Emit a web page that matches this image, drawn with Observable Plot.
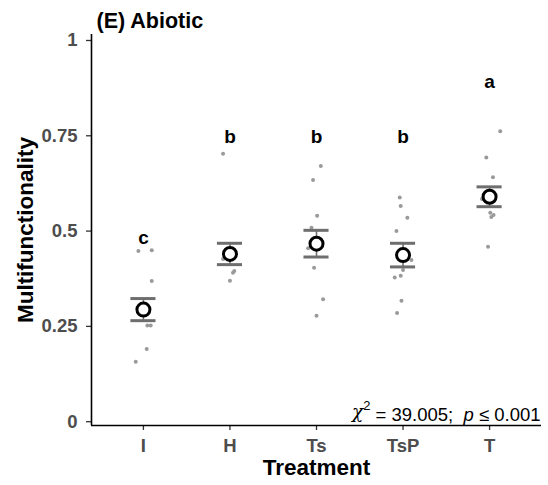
<!DOCTYPE html>
<html>
<head>
<meta charset="utf-8">
<script src="https://cdn.jsdelivr.net/npm/d3@7"></script>
<script src="https://cdn.jsdelivr.net/npm/@observablehq/plot@0.6"></script>
<style>
  body { margin: 0; background: white; }
  #chart svg { display: block; }
</style>
</head>
<body>
<div id="chart"></div>
<script>
// ---- data ----
const treatments = ["I", "H", "Ts", "TsP", "T"];
const means = [0.294, 0.440, 0.467, 0.437, 0.590];
const ses = [0.029, 0.028, 0.035, 0.031, 0.026];
const letters = ["c", "b", "b", "b", "a"];
const letterPos = [0.483, 0.747, 0.747, 0.747, 0.891];
const yTicks = [0, 0.25, 0.5, 0.75, 1];

const obsI   = [0.448, 0.450, 0.369, 0.252, 0.252, 0.191, 0.157];
const jitI   = [-0.058, 0.096, 0.096, 0.046, 0.084, 0.038, -0.089];
const obsH   = [0.703, 0.427, 0.395, 0.391, 0.370];
const jitH   = [-0.08, -0.08, 0.05, 0.035, 0.0];
const obsTs  = [0.671, 0.634, 0.540, 0.509, 0.455, 0.404, 0.321, 0.278];
const jitTs  = [0.05, -0.04, 0.007, -0.058, -0.097, -0.028, 0.076, 0.0];
const obsTsP = [0.588, 0.566, 0.535, 0.500, 0.424, 0.398, 0.383, 0.378, 0.317, 0.285];
const jitTsP = [-0.038, -0.027, 0.05, -0.076, 0.097, 0.0, -0.027, -0.096, -0.018, -0.069];
const obsT   = [0.762, 0.693, 0.641, 0.584, 0.548, 0.542, 0.537, 0.459];
const jitT   = [0.123, -0.038, 0.039, -0.088, 0.008, 0.046, 0.02, -0.018];

const chiText = "χ2 = 39.005;  p ≤ 0.001";
const titleText = "(E) Abiotic";

// ---- build tables ----
const obsGroups = [[obsI, jitI], [obsH, jitH], [obsTs, jitTs], [obsTsP, jitTsP], [obsT, jitT]];
const points = obsGroups.flatMap(([vals, jit], i) =>
  vals.map((v, k) => ({ pos: i + 1 + jit[k], value: v })));
const summary = treatments.map((t, i) => ({
  idx: i + 1, mean: means[i], lo: means[i] - ses[i], hi: means[i] + ses[i],
  letter: letters[i], lpos: letterPos[i]
}));
const capHalf = 0.145;
const font = "Liberation Sans, Arial, Helvetica, sans-serif";

const chart = Plot.plot({
  width: 548,
  height: 485,
  marginLeft: 91,
  marginRight: 7,
  marginTop: 34,
  marginBottom: 60,
  style: { fontFamily: font, background: "white" },
  x: { type: "linear", domain: [0.4, 5.6] },
  y: { domain: [-0.01, 1.0157] },
  marks: [
    Plot.axisY({
      ticks: yTicks, tickFormat: d => String(d), tickSize: 5, tickPadding: 9,
      fontSize: 18.5, fontWeight: "bold", fill: "#4d4d4d", stroke: "#333", strokeWidth: 1.3, label: null
    }),
    Plot.axisX({
      ticks: treatments.map((t, i) => i + 1), tickFormat: d => treatments[d - 1], tickSize: 5, tickPadding: 8,
      fontSize: 18.5, fontWeight: "bold", fill: "#4d4d4d", stroke: "#333", strokeWidth: 1.3, label: null
    }),
    Plot.ruleX([0.4], { stroke: "black", strokeWidth: 1.6 }),
    Plot.ruleY([-0.01], { stroke: "black", strokeWidth: 1.6 }),
    Plot.dot(points, { x: "pos", y: "value", r: 2, fill: "#9a9a9a", stroke: "none" }),
    Plot.ruleX(summary, { x: "idx", y1: "lo", y2: "hi", stroke: "#6e6e6e", strokeWidth: 1.6 }),
    Plot.ruleY(summary, { y: "lo", x1: d => d.idx - capHalf, x2: d => d.idx + capHalf, stroke: "#6e6e6e", strokeWidth: 3 }),
    Plot.ruleY(summary, { y: "hi", x1: d => d.idx - capHalf, x2: d => d.idx + capHalf, stroke: "#6e6e6e", strokeWidth: 3 }),
    Plot.dot(summary, { x: "idx", y: "mean", r: 6.5, fill: "white", stroke: "black", strokeWidth: 3 }),
    Plot.text(summary, { x: "idx", y: "lpos", text: "letter", fontSize: 19, fontWeight: "bold", fill: "black" }),
    Plot.text([titleText], { frameAnchor: "top-left", textAnchor: "start", lineAnchor: "middle", dx: 5, dy: -13, fontSize: 21.5, fontWeight: "bold", fill: "black" }),
    Plot.text(["Multifunctionality"], { frameAnchor: "left", textAnchor: "middle", rotate: -90, dx: -66, fontSize: 22.5, fontWeight: "bold", fill: "black" }),
    Plot.text(["Treatment"], { frameAnchor: "bottom", textAnchor: "middle", lineAnchor: "middle", dy: 42, fontSize: 22.5, fontWeight: "bold", fill: "black" }),
    Plot.text([chiText], { frameAnchor: "bottom-right", textAnchor: "end", lineAnchor: "bottom", dx: -1, dy: -8, fontSize: 18.5, fill: "black" })
  ]
});

document.getElementById("chart").appendChild(chart);

// rich formatting for the statistics annotation
const svg = d3.select(chart);
svg.selectAll("text").filter(function () { return this.textContent === chiText; })
  .each(function () {
    const t = d3.select(this);
    t.text(null);
    t.append("tspan").attr("font-family", "DejaVu Serif").attr("font-style", "italic").text("χ");
    t.append("tspan").attr("dy", "-0.55em").attr("font-size", "0.7em").text("2");
    t.append("tspan").attr("dy", "0.55em").text(" = 39.005;  ");
    t.append("tspan").attr("font-style", "italic").text("p");
    t.append("tspan").text(" ≤ 0.001");
  });
</script>
</body>
</html>
